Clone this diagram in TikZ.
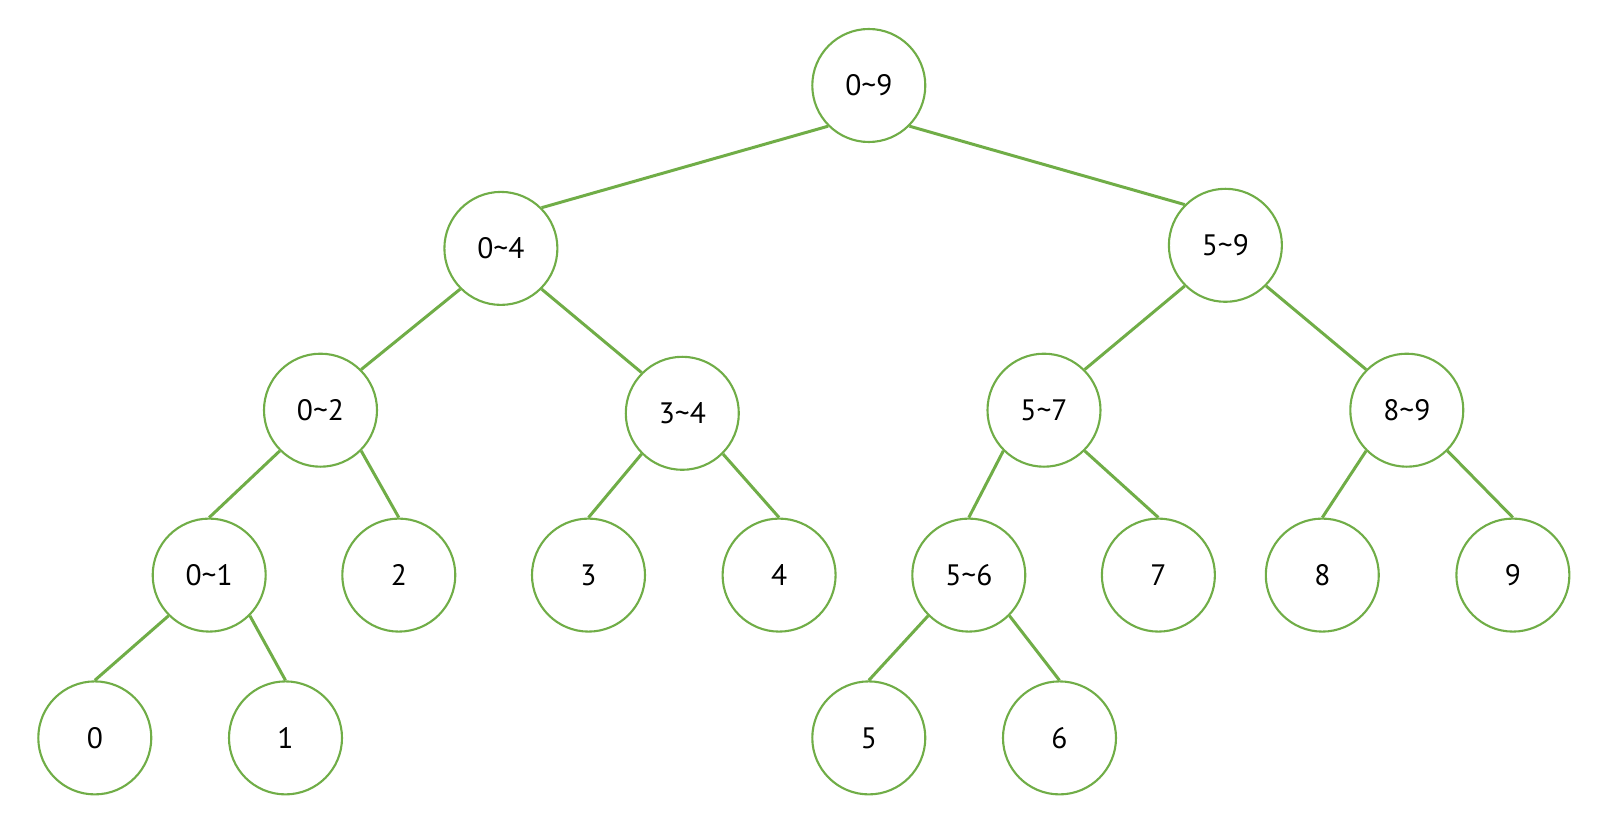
\documentclass[tikz,border=0pt]{standalone}
\usepackage{fontspec}
\setmainfont{PT Sans}
\usetikzlibrary{positioning}
\definecolor{treegreen}{RGB}{112,173,71}

\begin{document}
\begin{tikzpicture}[
    x=1mm, y=-1mm,
    SN/.style = {circle, draw=treegreen, line width=0.6pt,
                 minimum size=11.3mm, inner sep=0pt,
                 font=\fontsize{8.4}{10}\selectfont},
    link/.style = {draw=treegreen, line width=0.85pt}]
%---
\useasboundingbox (0,0) rectangle (161.6,83.2);
% root
\node (n09) [SN] at (86.88, 8.55)  {0\textasciitilde9};
% level 1
\node (n04) [SN] at (50.09,24.84)  {0\textasciitilde4};
\node (n59) [SN] at (122.54,24.53) {5\textasciitilde9};
% level 2
\node (n02) [SN] at (32.05,41.02)  {0\textasciitilde2};
\node (n34) [SN] at (68.23,41.33)  {3\textasciitilde4};
\node (n57) [SN] at (104.40,41.02) {5\textasciitilde7};
\node (n89) [SN] at (140.68,41.02) {8\textasciitilde9};
% level 3
\node (n01) [SN] at (20.92,57.51)  {0\textasciitilde1};
\node (n2)  [SN] at (39.88,57.51)  {2};
\node (n3)  [SN] at (58.85,57.51)  {3};
\node (n4)  [SN] at (77.91,57.51)  {4};
\node (n56) [SN] at (96.88,57.51)  {5\textasciitilde6};
\node (n7)  [SN] at (115.84,57.51) {7};
\node (n8)  [SN] at (132.23,57.51) {8};
\node (n9)  [SN] at (151.29,57.51) {9};
% level 4
\node (n0)  [SN] at (9.48,73.79)   {0};
\node (n1)  [SN] at (28.55,73.79)  {1};
\node (n5)  [SN] at (86.88,73.79)  {5};
\node (n6)  [SN] at (105.95,73.79) {6};
% lines
\draw[link] (n09.south west) -- (n04.north east)
            (n09.south east) -- (n59.north west)
            (n04.south west) -- (n02.north east)
            (n04.south east) -- (n34.north west)
            (n59.south west) -- (n57.north east)
            (n59.south east) -- (n89.north west);
\draw[link] (n02.south west) -- (n01.north)
            (n02.south east) -- (n2.north)
            (n34.south west) -- (n3.north)
            (n34.south east) -- (n4.north)
            (n57.south west) -- (n56.north)
            (n57.south east) -- (n7.north)
            (n89.south west) -- (n8.north)
            (n89.south east) -- (n9.north);
\draw[link] (n01.south west) -- (n0.north)
            (n01.south east) -- (n1.north)
            (n56.south west) -- (n5.north)
            (n56.south east) -- (n6.north);
\end{tikzpicture}
\end{document}
